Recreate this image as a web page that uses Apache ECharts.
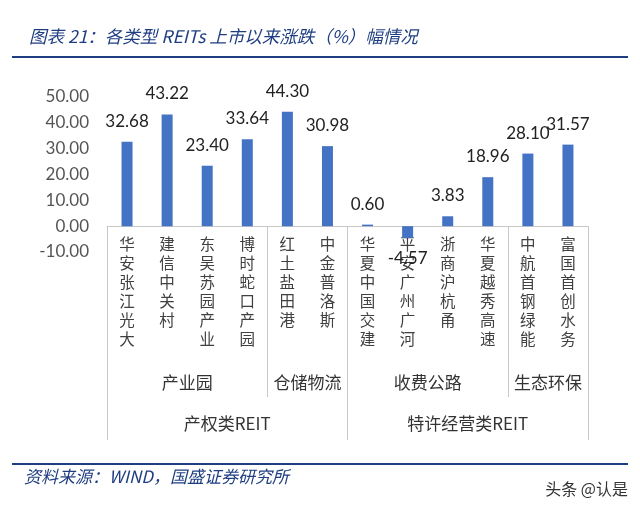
<!DOCTYPE html>
<html>
<head>
<meta charset="utf-8">
<script src="https://cdn.jsdelivr.net/npm/echarts@6/dist/echarts.min.js"></script>
<style>
  html, body { margin: 0; padding: 0; background: #fff; }
  #chart { width: 640px; height: 510px; }
</style>
</head>
<body>
<div id="chart"></div>
<script>
// 各只REIT
const categories = ['华安张江光大', '建信中关村', '东吴苏园产业', '博时蛇口产园', '红土盐田港', '中金普洛斯',
  '华夏中国交建', '平安广州广河', '浙商沪杭甬', '华夏越秀高速', '中航首钢绿能', '富国首创水务'];
const values = [32.68, 43.22, 23.40, 33.64, 44.30, 30.98, 0.60, -4.57, 3.83, 18.96, 28.10, 31.57];

// 第二层分组（13个边界位置，标签放在组中间）
const sectorSlots = ['', '', '产业园', '', '', '仓储物流', '', '', '收费公路', '', '', '生态环保', ''];
const sectorBounds = [4, 10];
// 第三层分组
const classSlots = ['', '', '', '产权类REIT', '', '', '', '', '', '特许经营类REIT', '', '', ''];
const classBounds = [0, 6, 12];

const yTicks = { min: -10, max: 50, interval: 10 };

const navy = '#1f3e82';
const gridColor = '#c8c8c8';
const cjk = '"Noto Sans CJK SC", sans-serif';

const chart = echarts.init(document.getElementById('chart'));

const option = {
  backgroundColor: '#fff',
  title: {
    text: '图表 21：各类型 REITs 上市以来涨跌（%）幅情况',
    left: 24,
    top: 23,
    textStyle: { color: navy, fontSize: 17.5, fontStyle: 'italic', fontWeight: 'normal', fontFamily: cjk }
  },
  graphic: [
    { type: 'rect', shape: { x: 12, y: 56, width: 616, height: 2 }, style: { fill: navy } },
    { type: 'rect', shape: { x: 12, y: 463, width: 616, height: 2 }, style: { fill: navy } },
    {
      type: 'text', left: 24, top: 468,
      style: { text: '资料来源：WIND，国盛证券研究所', fill: navy, font: 'italic 17px "Noto Sans CJK SC"' }
    },
    {
      type: 'text', right: 12, top: 481,
      style: { text: '头条 @认是', fill: '#333', font: '16px "Noto Sans CJK SC"' }
    }
  ],
  grid: { left: 107, right: 52, top: 97, bottom: 258 },
  xAxis: [
    {
      type: 'category',
      data: categories,
      axisLine: { onZero: true, lineStyle: { color: gridColor } },
      axisTick: { show: false },
      axisLabel: {
        interval: 0,
        margin: -17,
        color: '#404040',
        fontSize: 15.5,
        lineHeight: 19,
        fontFamily: cjk,
        formatter: name => name.split('').join('\n')
      }
    },
    {
      type: 'category',
      data: sectorSlots,
      boundaryGap: false,
      position: 'bottom',
      offset: 145,
      axisLine: { show: false, onZero: false },
      axisTick: {
        show: true, inside: true, length: 171,
        interval: i => sectorBounds.includes(i),
        lineStyle: { color: gridColor }
      },
      axisLabel: { inside: true, interval: 0, margin: 6, color: '#333', fontSize: 17, fontFamily: cjk }
    },
    {
      type: 'category',
      data: classSlots,
      boundaryGap: false,
      position: 'bottom',
      offset: 188,
      axisLine: { show: false, onZero: false },
      axisTick: {
        show: true, inside: true, length: 214,
        interval: i => classBounds.includes(i),
        lineStyle: { color: gridColor }
      },
      axisLabel: { inside: true, interval: 0, margin: 8, color: '#333', fontSize: 17, fontFamily: cjk }
    }
  ],
  yAxis: {
    type: 'value',
    min: yTicks.min,
    max: yTicks.max,
    interval: yTicks.interval,
    axisLine: { show: false },
    axisTick: { show: false },
    splitLine: { show: false },
    axisLabel: {
      margin: 18,
      color: '#555',
      fontSize: 17,
      fontFamily: 'Lato, sans-serif',
      formatter: v => v.toFixed(2)
    }
  },
  series: [{
    type: 'bar',
    xAxisIndex: 0,
    barWidth: 11,
    itemStyle: { color: '#4472c4' },
    label: {
      show: true,
      position: 'top',
      distance: 12,
      color: '#222',
      fontSize: 17,
      fontFamily: 'Lato, sans-serif',
      formatter: p => p.value.toFixed(2)
    },
    data: values.map(v => v < 0 ? { value: v, label: { position: 'bottom' } } : v)
  }]
};

chart.setOption(option);
</script>
</body>
</html>
